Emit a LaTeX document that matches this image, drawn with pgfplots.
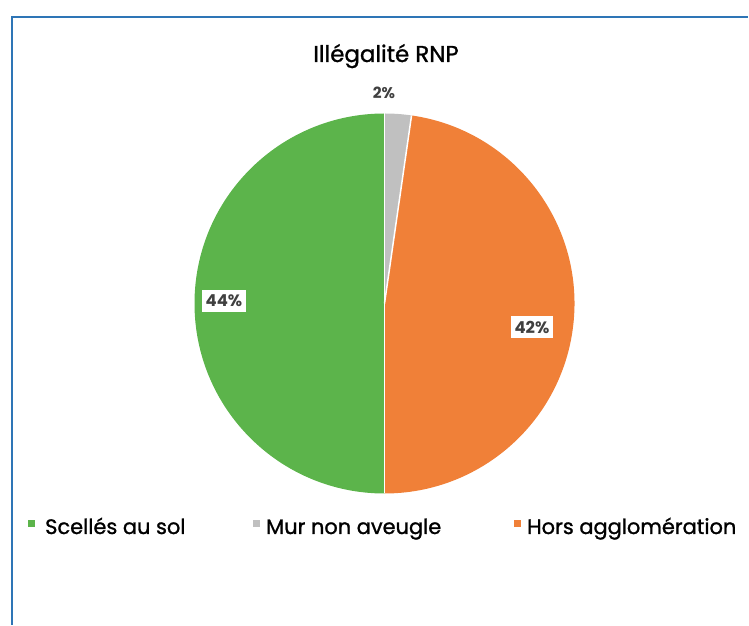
\documentclass[border=0pt]{standalone}
\usepackage{pgfplots}
\usepackage{pgfplotstable}
\pgfplotsset{compat=1.18}
\usepackage{fontspec}
\setmainfont{Poppins}
\newfontfamily\medfont{Poppins}[FakeBold=1.2]
\definecolor{cgreen}{RGB}{92,180,75}
\definecolor{cgray}{RGB}{192,192,192}
\definecolor{corange}{RGB}{240,128,56}
\definecolor{cborder}{RGB}{46,117,182}
\definecolor{ctext}{RGB}{64,64,64}
\pgfplotstableread{
name value
Scelles 44
Mur 2
Hors 42
}\piedata
\pgfplotstablegetelem{0}{value}\of\piedata \let\vA\pgfplotsretval
\pgfplotstablegetelem{1}{value}\of\piedata \let\vB\pgfplotsretval
\pgfplotstablegetelem{2}{value}\of\piedata \let\vC\pgfplotsretval
\pgfmathsetmacro\tot{\vA+\vB+\vC}
\pgfmathsetmacro\aA{90+360*\vA/\tot}
\pgfmathsetmacro\aB{90-360*\vB/\tot}
\pgfmathsetmacro\aC{\aB-360*\vC/\tot}
\begin{document}
\begin{tikzpicture}
\begin{axis}[
  at={(0,0)}, anchor=south west,
  width=749bp, height=626bp, scale only axis,
  xmin=0, xmax=749, ymin=0, ymax=626,
  hide axis,
]
\def\cx{384.5}\def\cy{322.5}\def\R{190bp}
\path (axis cs:0,0) (axis cs:749,626);
% frame
\draw[cborder, line width=1.2bp] (axis cs:12,1) -- (axis cs:12,609) -- (axis cs:748,609);
% slices
\fill[cgreen] (axis cs:\cx,\cy) -- ++(90:\R) arc[start angle=90, end angle=\aA, radius=\R] -- cycle;
\fill[cgray] (axis cs:\cx,\cy) -- ++(90:\R) arc[start angle=90, end angle=\aB, radius=\R] -- cycle;
\fill[corange] (axis cs:\cx,\cy) -- ++(\aB:\R) arc[start angle=\aB, end angle=\aC, radius=\R] -- cycle;
\draw[white, line width=1.5bp] (axis cs:\cx,\cy) -- ++(90:\R);
\draw[white, line width=1.5bp] (axis cs:\cx,\cy) -- ++(\aB:\R);
\draw[white, line width=1.5bp] (axis cs:\cx,\cy) -- ++(\aC:\R);
% labels
\node[anchor=base, inner sep=0pt, font=\medfont\fontsize{23}{27}\selectfont, text=black] at (axis cs:386,564) {Illégalité RNP};
\node[font=\bfseries\fontsize{15.5}{18}\selectfont, text=ctext] at (axis cs:384,533) {2\%};
\node[fill=white, inner xsep=4bp, inner ysep=5bp, font=\bfseries\fontsize{16.5}{19}\selectfont, text=ctext] at (axis cs:224,325) {44\%};
\node[fill=white, inner xsep=4bp, inner ysep=5bp, font=\bfseries\fontsize{16.5}{19}\selectfont, text=ctext] at (axis cs:532,299) {42\%};
% legend
\fill[cgreen] (axis cs:28,99) rectangle (axis cs:35,106);
\node[anchor=base west, inner sep=0pt, font=\medfont\fontsize{21}{25}\selectfont] at (axis cs:45,92) {Scellés au sol};
\fill[cgray] (axis cs:253,99) rectangle (axis cs:260,106);
\node[anchor=base west, inner sep=0pt, font=\medfont\fontsize{21}{25}\selectfont] at (axis cs:266,92) {Mur non aveugle};
\fill[corange] (axis cs:514,99) rectangle (axis cs:521,106);
\node[anchor=base west, inner sep=0pt, font=\medfont\fontsize{21}{25}\selectfont] at (axis cs:527,92) {Hors agglomération};
\end{axis}
\end{tikzpicture}
\end{document}
